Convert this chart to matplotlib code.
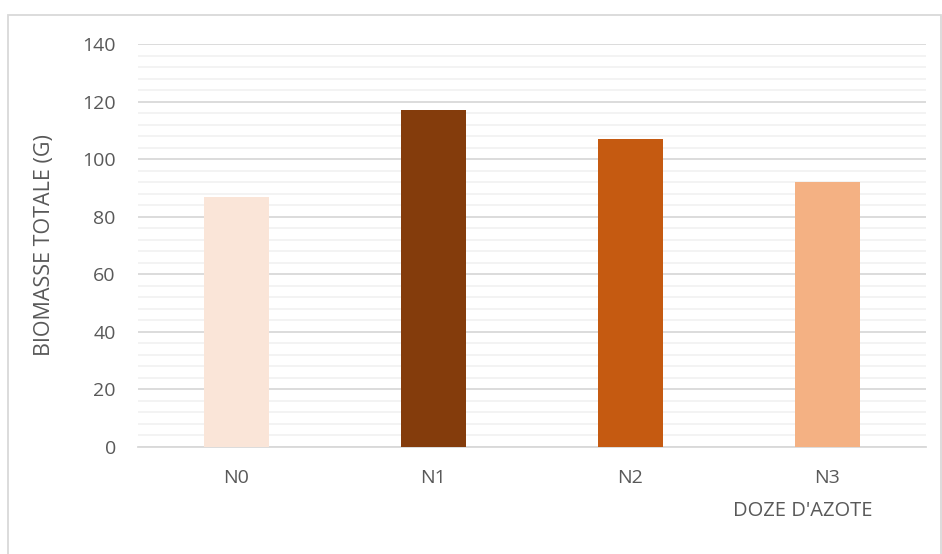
import matplotlib.pyplot as plt
from matplotlib.patches import Rectangle
from matplotlib.ticker import MultipleLocator

categories = ['N0', 'N1', 'N2', 'N3']
biomasse = [87, 117, 107, 92]
colors = ['#FAE5D8', '#843C0C', '#C55A11', '#F4B183']

plt.rcParams['font.family'] = ['Open Sans', 'DejaVu Sans']
txt = '#595959'

fig = plt.figure(figsize=(9.42, 5.54), dpi=100)
ax = fig.add_axes([138/942, 1-447/554, 788/942, 403/554])

x = range(len(categories))
ax.bar(x, biomasse, width=0.335, color=colors, zorder=3)

ax.set_xlim(-0.5, 3.5)
ax.set_ylim(0, 140)
ax.yaxis.set_major_locator(MultipleLocator(20))
ax.yaxis.set_minor_locator(MultipleLocator(4))
ax.grid(axis='y', which='major', color='#D9D9D9', lw=1.3, zorder=0)
ax.grid(axis='y', which='minor', color='#F2F2F2', lw=1.3, zorder=0)
ax.set_xticks(list(x))
ax.set_xticklabels(categories)
ax.tick_params(axis='both', which='both', length=0, colors=txt, labelsize=14)
ax.tick_params(axis='x', pad=16)
ax.tick_params(axis='y', pad=16)
for s in ['top', 'right', 'left']:
    ax.spines[s].set_visible(False)
ax.spines['bottom'].set_color('#D9D9D9')
ax.spines['bottom'].set_linewidth(1.3)

ax.set_ylabel('BIOMASSE TOTALE (G)', color=txt, fontsize=15.5)
ax.yaxis.set_label_coords(-83/788, 0.5)
fig.text(803/942, 1-511/554, "DOZE D'AZOTE", color=txt, fontsize=14.5,
         ha='center', va='center')

# chart frame
fig.patches.append(Rectangle((8/942, -0.05), 933/942, 1.05-15/554,
                             transform=fig.transFigure, fill=False,
                             edgecolor='#D9D9D9', lw=1.3))

fig.savefig('out.png', dpi=100)
